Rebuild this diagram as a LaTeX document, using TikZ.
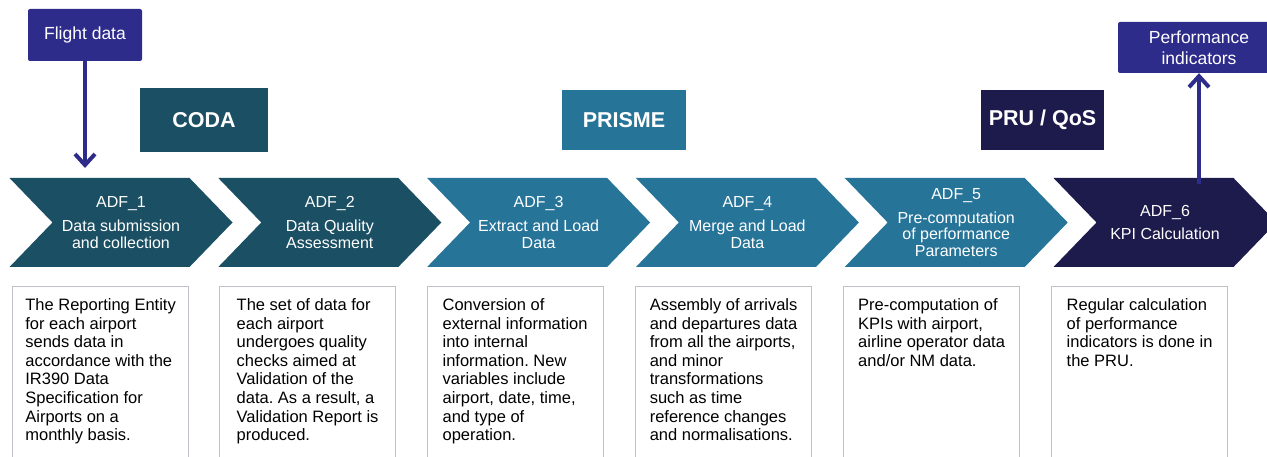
\documentclass[tikz,border=0pt]{standalone}
\usepackage{fontspec}
\setmainfont{Liberation Sans}
\usetikzlibrary{shapes.symbols,arrows.meta}
\definecolor{codateal}{HTML}{1B4F63}
\definecolor{prismeblue}{HTML}{277499}
\definecolor{prunavy}{HTML}{1D1B4C}
\definecolor{ioblue}{HTML}{2E2C8A}
\definecolor{descgray}{HTML}{BFC3C7}

\begin{document}
\frenchspacing
\begin{tikzpicture}[x=1pt,y=-1pt,
    adf/.style={signal, signal from=west, signal to=east, signal pointer angle=92, minimum width=223pt, minimum height=89pt, inner sep=0pt, text=white, align=center, font=\fontsize{16}{16.7}\selectfont},
    tool/.style={minimum width=124pt, minimum height=60pt, inner sep=0pt, text=white, font=\fontsize{21.5}{24}\selectfont\bfseries},
    io/.style={fill=ioblue, rounded corners=2pt, inner sep=0pt, text=white, align=center, font=\fontsize{17.5}{21}\selectfont},
    desc/.style={draw=descgray, line width=1.2pt, anchor=north west, minimum width=176pt, text depth=150pt, inner xsep=0pt, inner ysep=12pt, align=left, font=\fontsize{16.5}{18.6}\selectfont},
    arr/.style={draw=ioblue, line width=4pt, -{Straight Barb[length=11pt,width=20pt]}}]
    \useasboundingbox (0,0) rectangle (1267,457);

    \node[io, minimum width=114pt, minimum height=52pt] (flight) at (85,35) {Flight data};
    \node[io, minimum width=162pt, minimum height=51pt] (perf) at (1199,47.5) {Performance\\indicators};

    \node[tool, fill=codateal, minimum width=128pt, minimum height=64pt] (coda) at (204,120) {CODA};
    \node[tool, fill=prismeblue] (prisme) at (624,120) {PRISME};
    \node[tool, fill=prunavy, minimum width=123pt] (pru) at (1042.5,120) {PRU / QoS};

    \node[adf, fill=codateal] (adfone) at (121,222.5) {ADF\_1\\[7pt]Data submission\\and collection};
    \node[adf, fill=codateal] (adftwo) at (329.8,222.5) {ADF\_2\\[7pt]Data Quality\\Assessment};
    \node[adf, fill=prismeblue] (adfthree) at (538.6,222.5) {ADF\_3\\[7pt]Extract and Load\\Data};
    \node[adf, fill=prismeblue] (adffour) at (747.4,222.5) {ADF\_4\\[7pt]Merge and Load\\Data};
    \node[adf, fill=prismeblue] (adffive) at (956.2,222.5) {ADF\_5\\[7pt]Pre-computation\\of performance\\Parameters};
    \node[adf, fill=prunavy] (adfsix) at (1165,222.5) {ADF\_6\\[7pt]KPI Calculation};

    \node[desc] (descone) at (12,286) {The Reporting Entity\\for each airport\\sends data in\\accordance with the\\IR390 Data\\Specification for\\Airports on a\\monthly basis.};
    \node[desc] (desctwo) at (219,286) {The set of data for\\each airport\\undergoes quality\\checks aimed at\\Validation of the\\data. As a result, a\\Validation Report is\\produced.};
    \node[desc] (descthree) at (426.5,286) {Conversion of\\external information\\into internal\\information. New\\variables include\\airport, date, time,\\and type of\\operation.};
    \node[desc] (descfour) at (635,286) {Assembly of arrivals\\and departures data\\from all the airports,\\and minor\\transformations\\such as time\\reference changes\\and normalisations.};
    \node[desc] (descfive) at (843,286) {Pre-computation of\\KPIs with airport,\\airline operator data\\and/or NM data.};
    \node[desc] (descsix) at (1051,286) {Regular calculation\\of performance\\indicators is done in\\the PRU.};

    \coordinate (flightin) at (85,168);
    \coordinate (kpiout) at (1199,184);
    \draw[arr] (flight) -- (flightin);
    \draw[arr] (kpiout) -- (perf);
\end{tikzpicture}
\end{document}
